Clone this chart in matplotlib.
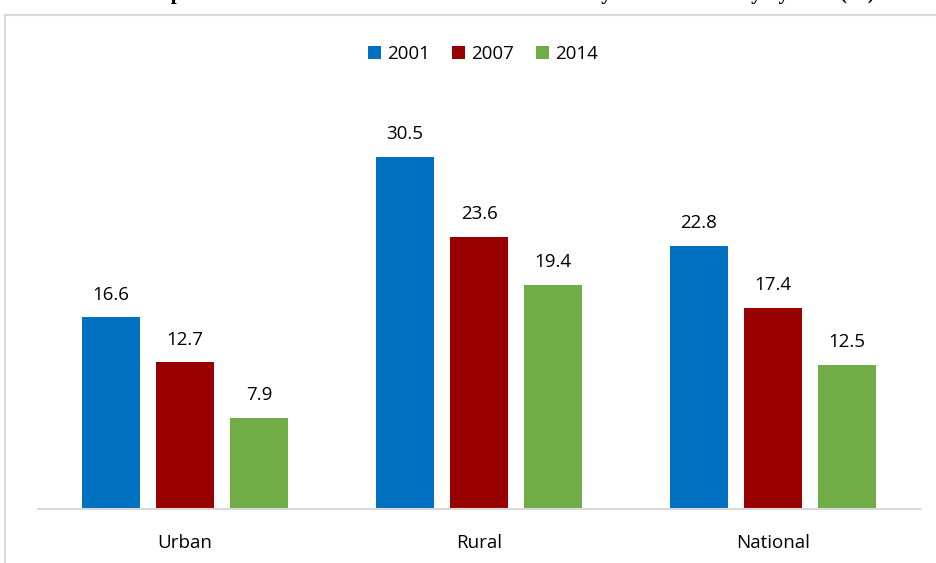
import numpy as np
import matplotlib
matplotlib.use('Agg')
import matplotlib.pyplot as plt
from matplotlib.patches import Rectangle

BLUE  = '#0070C0'
RED   = '#990000'
GREEN = '#70AD47'

areas = ['Urban', 'Rural', 'National']
years = ['2001', '2007', '2014']
v2001 = [16.6, 30.5, 22.8]
v2007 = [12.7, 23.6, 17.4]
v2014 = [7.9, 19.4, 12.5]

title = 'Comparison of Urban and Rural Rates in the Country from the Survey by Year (%)'

plt.rcParams['font.family'] = ['Open Sans', 'DejaVu Sans']

fig = plt.figure(figsize=(9.36, 5.63), dpi=100)

# outer chart frame (light grey)
fig.patches.append(Rectangle((5 / 936, -0.05), 1.0, 1 - 15 / 563 + 0.05,
                             transform=fig.transFigure, fill=False,
                             edgecolor='#d9d9d9', linewidth=1.5))

# title of the page above the chart, mostly cut off
fig.text(128 / 936, 1 + 1 / 563, title,
         ha='left', va='baseline', fontsize=15, fontweight='bold',
         family='Liberation Serif')

ax = fig.add_axes([38 / 936, 54 / 563, 882 / 936, 415.4 / 563])

x = np.arange(len(areas))
w = 0.2
step = 0.252
series = [(v2001, BLUE), (v2007, RED), (v2014, GREEN)]
for i, (vals, col) in enumerate(series):
    bars = ax.bar(x + (i - 1) * step, vals, w, color=col, label=years[i])
    for b, v in zip(bars, vals):
        ax.annotate(f'{v:.1f}', (b.get_x() + b.get_width() / 2, v),
                    xytext=(0, 10), textcoords='offset points',
                    ha='center', va='bottom', fontsize=13.5, color='#000000')

ax.set_xlim(-0.5, 2.5)
ax.set_ylim(0, 36)
ax.set_yticks([])
ax.set_xticks(x)
ax.set_xticklabels(areas, fontsize=13.5)
ax.tick_params(axis='x', length=0, pad=18)
for s in ['top', 'left', 'right']:
    ax.spines[s].set_visible(False)
ax.spines['bottom'].set_color('#d9d9d9')
ax.spines['bottom'].set_linewidth(1.5)

ax.legend(loc='center', bbox_to_anchor=(483 / 936, 1 - 54 / 563),
          bbox_transform=fig.transFigure, ncol=3, frameon=False,
          fontsize=13.5, handlelength=0.7, handleheight=0.7,
          handletextpad=0.3, columnspacing=1.2)

fig.savefig('out.png', dpi=100)
